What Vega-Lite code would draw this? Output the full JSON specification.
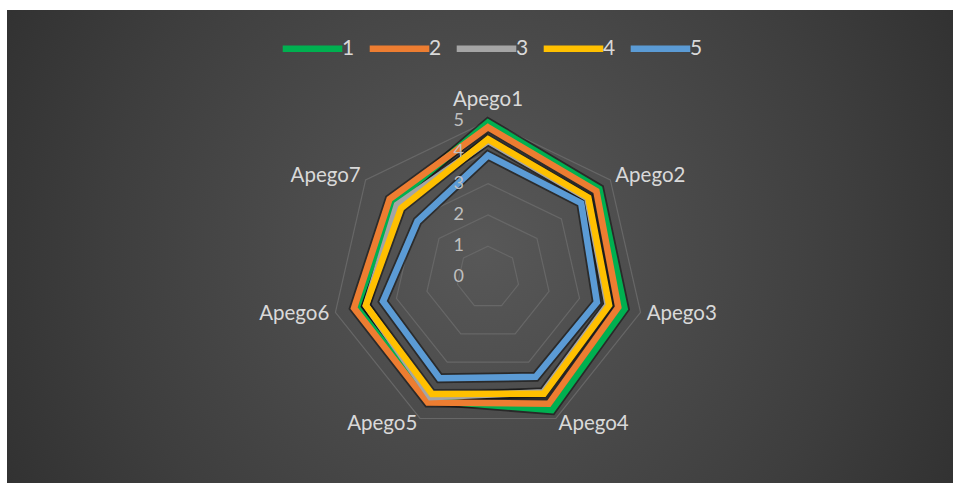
{
  "$schema": "https://vega.github.io/schema/vega-lite/v6.json",
  "width": 956,
  "height": 483,
  "autosize": {"type": "fit", "contains": "padding"},
  "padding": {"left": 7, "top": 10, "right": 3, "bottom": 0},
  "background": "#ffffff",
  "config": {
    "view": {
      "stroke": null,
      "fill": {
        "gradient": "radial",
        "x1": 0.5, "y1": 0.5, "r1": 0,
        "x2": 0.5, "y2": 0.5, "r2": 0.72,
        "stops": [
          {"offset": 0, "color": "#585858"},
          {"offset": 0.55, "color": "#3e3e3e"},
          {"offset": 1, "color": "#262626"}
        ]
      }
    },
    "font": "Lato"
  },
  "datasets": {
    "scores": [
      {"serie": "1", "axis": "Apego1", "k": 0, "v": 4.95},
      {"serie": "1", "axis": "Apego2", "k": 1, "v": 4.55},
      {"serie": "1", "axis": "Apego3", "k": 2, "v": 4.48},
      {"serie": "1", "axis": "Apego4", "k": 3, "v": 4.7},
      {"serie": "1", "axis": "Apego5", "k": 4, "v": 4.36},
      {"serie": "1", "axis": "Apego6", "k": 5, "v": 4.3},
      {"serie": "1", "axis": "Apego7", "k": 6, "v": 3.85},
      {"serie": "2", "axis": "Apego1", "k": 0, "v": 4.8},
      {"serie": "2", "axis": "Apego2", "k": 1, "v": 4.43},
      {"serie": "2", "axis": "Apego3", "k": 2, "v": 4.27},
      {"serie": "2", "axis": "Apego4", "k": 3, "v": 4.48},
      {"serie": "2", "axis": "Apego5", "k": 4, "v": 4.43},
      {"serie": "2", "axis": "Apego6", "k": 5, "v": 4.39},
      {"serie": "2", "axis": "Apego7", "k": 6, "v": 4.02},
      {"serie": "3", "axis": "Apego1", "k": 0, "v": 4.36},
      {"serie": "3", "axis": "Apego2", "k": 1, "v": 4.06},
      {"serie": "3", "axis": "Apego3", "k": 2, "v": 3.92},
      {"serie": "3", "axis": "Apego4", "k": 3, "v": 4.07},
      {"serie": "3", "axis": "Apego5", "k": 4, "v": 4.24},
      {"serie": "3", "axis": "Apego6", "k": 5, "v": 4.0},
      {"serie": "3", "axis": "Apego7", "k": 6, "v": 3.72},
      {"serie": "4", "axis": "Apego1", "k": 0, "v": 4.42},
      {"serie": "4", "axis": "Apego2", "k": 1, "v": 4.1},
      {"serie": "4", "axis": "Apego3", "k": 2, "v": 3.97},
      {"serie": "4", "axis": "Apego4", "k": 3, "v": 4.12},
      {"serie": "4", "axis": "Apego5", "k": 4, "v": 4.13},
      {"serie": "4", "axis": "Apego6", "k": 5, "v": 4.0},
      {"serie": "4", "axis": "Apego7", "k": 6, "v": 3.55},
      {"serie": "5", "axis": "Apego1", "k": 0, "v": 3.9},
      {"serie": "5", "axis": "Apego2", "k": 1, "v": 3.81},
      {"serie": "5", "axis": "Apego3", "k": 2, "v": 3.57},
      {"serie": "5", "axis": "Apego4", "k": 3, "v": 3.52},
      {"serie": "5", "axis": "Apego5", "k": 4, "v": 3.57},
      {"serie": "5", "axis": "Apego6", "k": 5, "v": 3.44},
      {"serie": "5", "axis": "Apego7", "k": 6, "v": 2.88}
    ],
    "axes": [
      {"axis": "Apego1", "k": 0},
      {"axis": "Apego2", "k": 1},
      {"axis": "Apego3", "k": 2},
      {"axis": "Apego4", "k": 3},
      {"axis": "Apego5", "k": 4},
      {"axis": "Apego6", "k": 5},
      {"axis": "Apego7", "k": 6}
    ],
    "grid": [
      {"k": 0, "lv": [1, 2, 3, 4, 5]},
      {"k": 1, "lv": [1, 2, 3, 4, 5]},
      {"k": 2, "lv": [1, 2, 3, 4, 5]},
      {"k": 3, "lv": [1, 2, 3, 4, 5]},
      {"k": 4, "lv": [1, 2, 3, 4, 5]},
      {"k": 5, "lv": [1, 2, 3, 4, 5]},
      {"k": 6, "lv": [1, 2, 3, 4, 5]}
    ],
    "ticks": [
      {"lv": 0}, {"lv": 1}, {"lv": 2}, {"lv": 3}, {"lv": 4}, {"lv": 5}
    ]
  },
  "layer": [
    {
      "data": {"name": "grid"},
      "transform": [
        {"flatten": ["lv"]},
        {"calculate": "datum.lv * sin(datum.k * 2 * PI / 7)", "as": "px"},
        {"calculate": "datum.lv * cos(datum.k * 2 * PI / 7)", "as": "py"}
      ],
      "mark": {"type": "line", "interpolate": "linear-closed", "stroke": "#676767", "strokeWidth": 1.2},
      "encoding": {
        "x": {"field": "px", "type": "quantitative", "scale": {"domain": [-15.367, 14.857], "nice": false, "zero": false}, "axis": null},
        "y": {"field": "py", "type": "quantitative", "scale": {"domain": [-6.566, 8.546], "nice": false, "zero": false}, "axis": null},
        "detail": {"field": "lv", "type": "nominal"},
        "order": {"field": "k", "type": "quantitative"}
      }
    },
    {
      "data": {"name": "scores"},
      "transform": [
        {"calculate": "datum.v * sin(datum.k * 2 * PI / 7)", "as": "px"},
        {"calculate": "datum.v * cos(datum.k * 2 * PI / 7)", "as": "py"}
      ],
      "mark": {"type": "line", "interpolate": "linear-closed", "stroke": "#0d0d0d", "strokeWidth": 10, "opacity": 0.55, "strokeJoin": "miter"},
      "encoding": {
        "x": {"field": "px", "type": "quantitative", "scale": {"domain": [-15.367, 14.857], "nice": false, "zero": false}, "axis": null},
        "y": {"field": "py", "type": "quantitative", "scale": {"domain": [-6.566, 8.546], "nice": false, "zero": false}, "axis": null},
        "detail": {"field": "serie", "type": "nominal"},
        "order": {"field": "k", "type": "quantitative"}
      }
    },
    {
      "data": {"name": "scores"},
      "transform": [
        {"calculate": "datum.v * sin(datum.k * 2 * PI / 7)", "as": "px"},
        {"calculate": "datum.v * cos(datum.k * 2 * PI / 7)", "as": "py"}
      ],
      "mark": {"type": "line", "interpolate": "linear-closed", "strokeWidth": 6.5, "strokeJoin": "miter"},
      "encoding": {
        "x": {"field": "px", "type": "quantitative", "scale": {"domain": [-15.367, 14.857], "nice": false, "zero": false}, "axis": null},
        "y": {"field": "py", "type": "quantitative", "scale": {"domain": [-6.566, 8.546], "nice": false, "zero": false}, "axis": null},
        "color": {
          "field": "serie", "type": "nominal",
          "scale": {"domain": ["1", "2", "3", "4", "5"], "range": ["#00b050", "#ed7d31", "#a5a5a5", "#ffc000", "#5b9bd5"]},
          "legend": {
            "orient": "none", "legendX": 272, "legendY": 5, "direction": "horizontal",
            "title": null, "symbolType": "stroke", "symbolSize": 3550, "symbolStrokeWidth": 6.5,
            "labelFontSize": 21, "labelColor": "#d9d9d9", "labelFont": "Lato",
            "labelOffset": -4, "columnPadding": 0
          }
        },
        "order": {"field": "k", "type": "quantitative"}
      }
    },
    {
      "data": {"name": "ticks"},
      "mark": {"type": "text", "align": "right", "baseline": "middle", "dx": -24, "fontSize": 18, "color": "#bfbfbf", "font": "Lato"},
      "encoding": {
        "x": {"datum": 0, "type": "quantitative", "scale": {"domain": [-15.367, 14.857], "nice": false, "zero": false}, "axis": null},
        "y": {"field": "lv", "type": "quantitative", "scale": {"domain": [-6.566, 8.546], "nice": false, "zero": false}, "axis": null},
        "text": {"field": "lv", "type": "quantitative"}
      }
    },
    {
      "data": {"name": "axes"},
      "transform": [
        {"calculate": "5.2 * sin(datum.k * 2 * PI / 7)", "as": "px"},
        {"calculate": "5.2 * cos(datum.k * 2 * PI / 7)", "as": "py"},
        {"filter": "datum.k == 0"}
      ],
      "mark": {"type": "text", "align": "center", "baseline": "middle", "dy": -15, "fontSize": 20.5, "color": "#d9d9d9", "font": "Lato"},
      "encoding": {
        "x": {"field": "px", "type": "quantitative", "scale": {"domain": [-15.367, 14.857], "nice": false, "zero": false}, "axis": null},
        "y": {"field": "py", "type": "quantitative", "scale": {"domain": [-6.566, 8.546], "nice": false, "zero": false}, "axis": null},
        "text": {"field": "axis", "type": "nominal"}
      }
    },
    {
      "data": {"name": "axes"},
      "transform": [
        {"calculate": "5.2 * sin(datum.k * 2 * PI / 7)", "as": "px"},
        {"calculate": "5.2 * cos(datum.k * 2 * PI / 7)", "as": "py"},
        {"filter": "datum.k >= 1 && datum.k <= 3"}
      ],
      "mark": {"type": "text", "align": "left", "baseline": "middle", "fontSize": 20.5, "color": "#d9d9d9", "font": "Lato"},
      "encoding": {
        "x": {"field": "px", "type": "quantitative", "scale": {"domain": [-15.367, 14.857], "nice": false, "zero": false}, "axis": null},
        "y": {"field": "py", "type": "quantitative", "scale": {"domain": [-6.566, 8.546], "nice": false, "zero": false}, "axis": null},
        "text": {"field": "axis", "type": "nominal"}
      }
    },
    {
      "data": {"name": "axes"},
      "transform": [
        {"calculate": "5.2 * sin(datum.k * 2 * PI / 7)", "as": "px"},
        {"calculate": "5.2 * cos(datum.k * 2 * PI / 7)", "as": "py"},
        {"filter": "datum.k >= 4"}
      ],
      "mark": {"type": "text", "align": "right", "baseline": "middle", "fontSize": 20.5, "color": "#d9d9d9", "font": "Lato"},
      "encoding": {
        "x": {"field": "px", "type": "quantitative", "scale": {"domain": [-15.367, 14.857], "nice": false, "zero": false}, "axis": null},
        "y": {"field": "py", "type": "quantitative", "scale": {"domain": [-6.566, 8.546], "nice": false, "zero": false}, "axis": null},
        "text": {"field": "axis", "type": "nominal"}
      }
    }
  ]
}
